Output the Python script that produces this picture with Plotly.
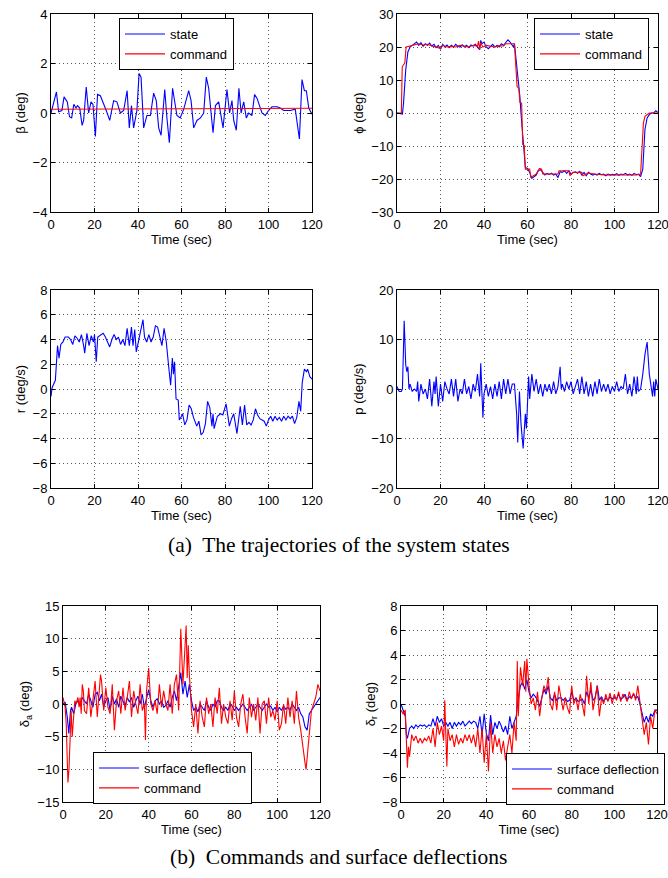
import plotly.graph_objects as go

# ---------------- data ----------------
t_beta = [0, 1, 2.5, 3.5, 5, 6, 7.5, 8.5, 9.5, 10.5, 11.5, 12.2, 13.2, 14.3, 15, 16.2, 17.3, 18.4, 19.3, 20.4,
          21.4, 22.7, 24.2, 25.4, 27, 28.8, 30.3, 31.9, 33.4, 35, 36, 37, 38, 39.5, 40.5, 41.4, 42.6, 44.1, 45.7,
          47.2, 48.4, 49.5, 50.6, 52.3, 53.3, 54.4, 55.9, 56.9, 57.9, 59.4, 61, 63.3, 64.4, 65.6, 67.1, 68.7,
          70.2, 71.4, 72.5, 73.6, 74.5, 75.6, 77.1, 79.1, 80.9, 82.1, 83.2, 84, 85.2, 86.4, 87.4, 88.6, 89.8,
          90.9, 92.4, 93.6, 94.7, 97, 98.5, 100, 101.6, 103.9, 105.4, 107, 110, 112.3, 114.2, 115.4, 116.5,
          117.4, 118.5, 120]
beta_state = [0.0, 0.3, 0.85, 0.05, 0.1, 0.65, 0.45, -0.15, -0.2, 0.35, 0.2, 0.3, 0.2, -0.5, -0.3, 1.05, 0.0,
              0.45, 0.35, -0.95, 0.75, 0.7, 0.4, 0.1, -0.3, 0.5, 0.45, 0.0, 0.1, 0.9, -0.6, 0.3, -0.6, 0.1, 1.6,
              1.45, -0.6, -0.1, -0.1, 0.8, 0.5, -0.6, -0.9, 0.95, -0.2, -1.2, 1.0, 0.5, -0.1, -0.2, 0.15, 0.9,
              0.5, -0.6, -0.3, -0.2, 0.0, 1.45, 1.0, 0.0, -0.8, 0.3, 0.45, -0.6, 0.95, 0.0, 0.5, -0.3, -0.7, 1.0,
              0.0, 0.45, -0.2, 0.0, -0.1, 0.75, 0.6, 0.0, -0.1, 0.1, 0.25, 0.25, 0.2, 0.1, 0.1, 0.15, -1.05,
              1.35, 0.9, 0.9, 0.2, -0.05]
t_beta_cmd = [0, 60, 120]
beta_cmd = [0.15, 0.17, 0.19]

t_phi_cmd = [0, 2.0, 2.4, 3.2, 3.6, 4.2, 6, 8, 10, 12, 14, 16, 18, 20, 21, 23, 25, 27, 29, 31, 33, 35, 37, 37.5,
             38, 38.5, 39.5, 41, 43, 45, 47, 49, 50, 52, 54, 55.2, 56, 56.5, 57.3, 57.8, 58.5, 59, 61, 61.5, 63,
             64, 65.5, 66.5, 67, 70, 74, 74.5, 79, 79.5, 81, 85, 85.5, 87, 88, 91, 95, 100, 105, 110, 112, 113.3,
             114, 115, 116, 120]
phi_cmd = [0, 0, 14, 15, 15.2, 20, 20.3, 20.7, 21, 20.6, 20.8, 20.3, 20, 19.6, 20.5, 20, 20.2, 20, 20.5, 20.2,
           20, 20.5, 20.3, 21.8, 19.3, 21.3, 20, 20.5, 20.2, 20, 20.4, 20.3, 21, 21, 21, 8, 7.5, 3.2, 3, -9.5,
           -9.8, -17, -17, -19.5, -19, -18.5, -16.8, -17, -18.5, -18.5, -18.5, -17.5, -17.5, -19, -18, -18, -19,
           -18.5, -18.2, -18.5, -18.8, -18.8, -18.8, -18.8, -18.5, -3, -1, -0.5, 0, 0]
t_phi = [0, 2.5, 3, 4, 5, 6, 7, 8, 9, 10, 11, 12, 13, 14, 15, 16, 17, 18, 19, 20, 21, 22, 23, 24, 25, 26, 27,
         28, 29, 30, 31, 32, 33, 34, 35, 36, 37, 38, 38.5, 39, 40, 41, 42, 43, 44, 45, 46, 47, 48, 49, 50, 51,
         52, 53, 53.5, 54, 54.5, 55, 55.5, 56, 56.5, 57, 57.5, 58, 58.5, 59, 60, 61, 62, 63, 64, 65, 66, 67, 68,
         69, 70, 71, 72, 73, 74, 75, 76, 77, 78, 79, 80, 81, 82, 83, 84, 85, 86, 87, 88, 89, 90, 91, 92, 93,
         94, 95, 96, 97, 98, 99, 100, 101, 102, 103, 104, 105, 106, 107, 108, 109, 110, 111, 112, 113, 113.5,
         114, 115, 116, 117, 118, 119, 120]
phi_state = [0, -0.3, 3, 13, 18.5, 20, 20.5, 21, 21.5, 20.5, 21.3, 20.2, 21, 20.5, 21.2, 20.3, 20.8, 19.8, 20.5,
             19.3, 20.8, 20, 20.6, 19.8, 20.5, 20, 20.8, 20.2, 20, 20.7, 20, 20.5, 19.8, 20.6, 20.3, 20.8, 20,
             19.2, 22, 21, 21.5, 20, 19.5, 20.2, 20.8, 20, 20.5, 20, 21, 20.5, 21.5, 22.2, 21.5, 20.5, 20, 21,
             18, 14, 10, 7, 5, 0, -4, -9, -13, -16.5, -16.8, -18, -19.8, -19.2, -18.8, -17.5, -17.2, -18, -18.8,
             -18.3, -18.6, -18.2, -18.8, -18.5, -19.6, -17.8, -18, -17.5, -18.3, -17.5, -18.5, -18, -17.8, -18.3,
             -17.7, -18.8, -18, -19, -18, -18.5, -18.8, -18.5, -18.8, -18.3, -18.7, -18.5, -19, -18.5, -18.8,
             -18.6, -18.8, -18.4, -18.9, -18.5, -18.7, -18.3, -18.8, -18.5, -18.9, -18.3, -18.7, -18.5, -19.3,
             -17, -10, -5, -1.5, -0.5, 0, 0, 0.7, 0.2]

t_r = [0, 0.5, 1, 2, 3, 3.7, 4.5, 5.5, 6.5, 8, 9, 10, 11, 12, 13, 14, 15, 15.5, 16.5, 17.5, 18.5, 19.5, 20,
       20.8, 21.5, 22.5, 24, 25, 26, 27, 28, 29, 30, 31, 32, 33, 34, 35, 36, 37, 37.7, 38.5, 39.2, 40, 41, 42.3,
       43, 44, 45, 46, 47, 48, 49, 50, 51, 52, 53, 54, 55, 55.8, 56.3, 56.8, 57.5, 58.5, 59, 60, 60.5, 61.5,
       62.5, 63.5, 64.5, 65.5, 66.5, 67, 68, 69, 70, 71, 72, 73, 74, 74.5, 75, 76.5, 78, 79, 80.5, 82, 83, 84,
       85.5, 87, 88, 89, 90, 91, 92, 93, 94, 95, 96, 97, 98, 99, 100, 101, 102, 103, 104, 105, 106, 107, 108,
       109, 110, 111, 112, 113, 114, 114.8, 115.5, 116.5, 117.5, 118, 119, 120]
r_state = [-0.6, 0.1, 0.3, 0.7, 3.5, 2.5, 3.6, 3.8, 4.2, 4.2, 4.0, 3.6, 4.3, 4.1, 3.8, 4.4, 3.5, 2.9, 4.5, 3.5,
           4.3, 3.8, 4.4, 2.2, 4.2, 4.3, 4.5, 4.2, 3.8, 3.4, 4.0, 4.4, 4.0, 4.2, 3.6, 4.0, 3.5, 4.9, 3.5, 5.0,
           3.5, 4.8, 3.0, 3.7, 4.5, 5.6, 4.2, 3.8, 4.4, 3.8, 4.2, 5.1, 5.0, 4.3, 3.5, 4.9, 3.8, 2.0, 0.3, 2.5,
           1.2, 2.2, -0.8, -0.9, -2.5, -2.2, -2.0, -2.9, -2.5, -1.3, -1.6, -2.3, -2.8, -3.0, -2.6, -3.7, -3.5,
           -2.8, -1.0, -1.5, -3.0, -2.0, -3.2, -2.2, -2.0, -2.1, -1.2, -3.0, -2.4, -2.0, -3.6, -1.4, -2.9, -1.3,
           -2.9, -2.7, -2.9, -2.5, -1.6, -2.1, -2.4, -2.5, -2.6, -3.0, -2.5, -2.2, -2.6, -2.2, -2.5, -2.3, -2.6,
           -2.2, -2.5, -2.2, -2.4, -2.2, -2.8, -2.3, -1.0, -1.8, 0.5, 1.6, 1.4, 1.6, 1.0, 0.8]

t_p = [0, 1, 2, 2.5, 3.3, 4, 4.5, 5, 5.5, 6, 7, 8, 9, 9.5, 10, 11, 12, 13, 14, 15, 16, 17, 17.5, 18, 19, 20, 21,
       22, 23, 24, 25, 26, 27, 28, 29, 30, 31, 32, 33, 34, 35, 36, 37, 38, 38.5, 39, 39.5, 40, 41, 42, 43, 44,
       45, 46, 47, 48, 49, 50, 51, 52, 53, 54, 55, 55.5, 56.3, 57, 58, 59, 59.5, 60, 60.5, 61, 62, 63, 64, 65,
       66, 67, 68, 69, 70, 71, 72, 73, 74, 75, 75.5, 76, 77, 78, 79, 80, 81, 82, 83, 84, 85, 86, 87, 88, 89, 90,
       91, 92, 93, 94, 95, 96, 97, 98, 99, 100, 101, 102, 103, 104, 105, 106, 107, 108, 109, 110, 110.5, 111,
       112, 113, 114, 115, 115.5, 116, 117, 117.5, 118, 118.5, 119, 120]
p_state = [0.5, -0.5, -0.5, 0, 13.8, 5, 3.5, 4.5, 0, 1, -0.5, 0, -0.5, 1.5, -2.5, 1, -1, 0, -2, 2, -3.5, 1.5,
           -1, 2.5, -3.5, 1, -2.5, 1.5, 0, -1, 2, -1.5, 2, -2.5, 0, -1, 2, -1, 0.5, -2, 1, -0.5, 3, -1.5, 5.2,
           -2, -5.8, -1, 1, -1.5, 0.5, -2, 1, -1.5, 1.5, -2, 2, -1, 2, -1, 1, 1, -5, -10.8, -0.5, -7, -12, -5,
           -8, -3, 2.5, -2, 3, -0.5, 2, -1, 1, -1.5, 1, -0.5, 1, -1, 1.5, -1, 0.5, 4.5, 0, 1, -0.5, 1.5, 0, 1.5,
           -1, 0.5, 2, -1, 2.5, -1, 1.5, -1.5, 1, -1.5, 1.5, -1, 2, -0.5, 1, -0.5, 1, -1, 0.5, -0.5, 1.5, -0.5,
           0.5, 0, 3, -1, 1, -1.5, 2.5, -1, 2.5, -0.5, 0, 3, 7, 9.5, 6, 3, 0, -1.5, 1.5, -1.5, 2, 0]

t_da = [0, 1, 2, 2.7, 3.5, 4, 5, 6, 7, 8, 9, 10, 11, 12, 13, 14, 15, 16, 17, 18, 19, 20, 21, 22, 23, 24, 25, 26,
        27, 28, 29, 30, 31, 32, 33, 34, 35, 36, 37, 38, 39, 40, 41, 42, 43, 44, 45, 46, 47, 48, 49, 50, 51, 52,
        53, 54, 55, 56, 57, 58, 59, 60, 61, 62, 63, 64, 65, 66, 67, 68, 69, 70, 71, 72, 73, 74, 75, 76, 77, 78,
        79, 80, 81, 82, 83, 84, 85, 86, 87, 88, 89, 90, 91, 92, 93, 94, 95, 96, 97, 98, 99, 100, 101, 102, 103,
        104, 105, 106, 107, 108, 109, 110, 111, 112, 113, 114, 115, 116, 117, 118, 119, 120]
da_surf = [0, 0.3, -2, -4.5, -1, -0.5, -1.5, 0, 0.5, -0.3, 1.0, 0.5, 0, 1.5, 0.5, -0.5, 1.5, 1.8, 0.5, 1.5,
           -0.5, 0.5, 1, -1, 1.2, 0, 0.8, -0.5, 1.2, 0.3, -0.3, 1.0, 0.3, 1, -0.5, 0.5, 1.2, 0, 1.5, -0.5, 1.0,
           2.2, 0.5, -0.5, 0.5, 0.8, 0, 0.5, -0.5, -0.2, 0.5, -0.5, 1.0, 2.0, 0.5, 3.0, 4.8, 1.5, 3.5, 1.0, 3.0,
           0.5, -1.0, -0.5, -1.2, 0, -0.5, -1, 0.5, -0.5, -1.0, 0, -0.5, 0.5, 0.5, -0.5, -1, -0.5, -1, 0, -0.3,
           -1, -0.5, -1, -0.5, 0, -0.5, -1, -0.5, 0, -1, -0.5, 0, -0.5, -1, -0.5, 0, -0.5, -0.3, -1, -0.5, -1.2,
           -0.5, -1, -0.3, -0.8, -0.5, -1, 0, -0.5, -1, -0.5, -1.5, -2, -3.5, -4, -1.5, -1, -0.5, 0, 0.5, 1.0]
t_da_cmd = [0, 0.5, 1, 1.5, 2.3, 2.8, 3.3, 3.8, 4.3, 4.8, 5.5, 6, 7, 7.5, 8, 8.5, 9, 9.5, 10, 11, 11.5, 12, 13,
            14, 15, 16, 17, 17.5, 18, 19, 20, 21, 22, 23, 24, 25, 26, 27, 28, 29, 30, 31, 32, 33, 34, 35, 36, 37,
            38, 38.5, 39, 40, 41, 42, 43, 44, 45, 46, 47, 48, 49, 50, 51, 52, 53, 54, 55, 56, 57, 57.5, 58, 58.5,
            59, 60, 61, 62, 63, 64, 65, 66, 67, 68, 69, 70, 71, 72, 73, 74, 75, 76, 77, 78, 79, 80, 81, 82, 83,
            84, 85, 86, 87, 88, 89, 90, 91, 92, 93, 94, 95, 96, 97, 98, 99, 100, 101, 102, 103, 104, 105, 106,
            107, 108, 109, 110, 111, 112, 113, 113.5, 114, 115, 116, 117, 118, 119, 120]
da_cmd = [1, 0, -0.5, -3, -12, -10, -5, -1, -5, -2, 0.5, 0, 1, -0.5, 1, -1.5, 3, 2, -1, -1.5, 1, 2.5, -2, 0.5,
          3.5, -2, 2, 4.5, 3.5, -1, 2.5, -0.5, -1.5, 3, -4, 0.5, 2, -1.5, 2.5, -1, 1, 3.5, -2, 2, 0, -1.5, 3,
          -1, 0, -5.5, 2, 5.5, 0, -1, 0.5, -1.5, 3.0, -0.5, 2, 0, -1, 3, -1.5, 3, 4.5, -1, 11.5, 3, 9, 12, 4, 9,
          4.5, -1, -3.5, 0, -4.5, 0.5, -2, -3.5, 1, -1.5, 0, -3.5, 1, -1.5, 2.5, -3, 0, -2, -3, 0.5, -2.5, 2,
          -2, -3.5, 0, 1.5, -2, -4.5, 1, -2, 0, -2.5, 1, -4.5, 0, 0.5, -3, 1, -2, -1, -2.5, 0.5, -4, -3, 0, -3,
          1, -2, 0.5, -3, 2, -2, -4, -7, -9, -10, -8, -4, -1, 0, 1, 3, 2]

t_dr = [0, 1, 2, 2.5, 3, 4, 5, 6, 7, 8, 9, 10, 11, 12, 13, 14, 15, 16, 17, 18, 19, 20, 21, 22, 23, 24, 25, 26,
        27, 28, 29, 30, 31, 32, 33, 34, 35, 36, 37, 38, 39, 40, 41, 42, 43, 44, 45, 46, 47, 48, 49, 50, 51, 52,
        53, 54, 55, 56, 57, 58, 59, 60, 61, 62, 63, 64, 65, 66, 67, 68, 69, 70, 71, 72, 73, 74, 75, 76, 77, 78,
        79, 80, 81, 82, 83, 84, 85, 86, 87, 88, 89, 90, 91, 92, 93, 94, 95, 96, 97, 98, 99, 100, 101, 102, 103,
        104, 105, 106, 107, 108, 109, 110, 111, 112, 113, 114, 115, 116, 117, 118, 119, 120]
dr_surf = [0, -0.5, -1, -2.5, -2.8, -2, -1.8, -2, -1.7, -1.9, -1.7, -1.8, -1.7, -1.9, -1.7, -1.8, -1.2, -1.8,
           -1.0, -1.5, -1.2, -1.8, -1.5, -1.8, -1.5, -2.0, -1.5, -1.8, -1.5, -1.7, -1.4, -1.8, -1.6, -1.4, -1.6,
           -1.4, -1.5, -2.0, -1.0, -2.5, -0.8, -2.4, -3.0, -0.9, -2.5, -1.5, -2.0, -1.4, -1.8, -2.3, -1.8, -2.5,
           -1.0, -2.0, -1.5, -1.0, 0.5, 1.5, 1.8, 1.2, 2.0, 1.0, 0.5, 0.8, 0.6, 0.3, -0.2, 0.5, 1.2, 0.8, 1.5,
           0.5, 0.3, 0.8, 0.3, 0.5, 0.5, 0.3, 0.5, 0.2, 0.3, 1.0, 0.3, 0.5, 0.2, 0.3, 0.4, 0.0, 1.0, 0.5, 1.2,
           0.3, 0.5, 1.5, 0.3, 0.6, 0.2, 0.5, 0.3, 0.6, 0.4, 0.6, 0.4, 0.8, 0.4, 0.5, 0.8, 0.3, 0.6, 0.5, 0.8,
           0.5, 0.6, 0.0, -0.8, -1.5, -1.0, -1.5, -0.8, -1.0, -0.5, -0.5]
t_dr_cmd = [0, 1, 2, 2.5, 3, 3.5, 4, 5, 6, 7, 8, 9, 10, 11, 12, 13, 14, 15, 16, 17, 18, 19, 20, 20.5, 21, 21.5,
            22, 23, 24, 25, 26, 27, 28, 29, 30, 31, 32, 33, 34, 35, 36, 37, 38, 39, 40, 41, 42, 43, 44, 45, 46,
            47, 48, 49, 50, 51, 52, 53, 54, 54.5, 55, 56, 57, 58, 58.5, 59, 60, 61, 62, 63, 64, 65, 66, 67, 68,
            69, 70, 71, 72, 73, 74, 75, 76, 77, 78, 79, 80, 81, 82, 83, 84, 85, 86, 87, 88, 89, 90, 91, 92, 93,
            94, 95, 96, 97, 98, 99, 100, 101, 102, 103, 104, 105, 106, 107, 108, 109, 110, 111, 112, 113, 114,
            115, 116, 117, 118, 119, 120]
dr_cmd = [-0.5, -0.8, -0.5, -3, -5.2, -3.5, -4.3, -2.5, -3.0, -2.6, -3.2, -2.8, -3.2, -2.8, -3.0, -2.6, -3.2,
          -2.0, -3.5, -1.5, -2.5, -1.8, -3.0, 0.3, -2.5, -5.1, -2, -3, -2.5, -3.5, -2.5, -3.3, -2.8, -3.2, -2.5,
          -3.0, -2.5, -3.2, -2.5, -3.5, -2.0, -4.0, -2.0, -4.8, -2.5, -5.5, -1.5, -4.0, -2.5, -3.5, -2.8, -4.0,
          -3.0, -4.6, -3.5, -2.5, -4.0, -1.5, -3.0, 3.5, -1.0, 3.0, 1.5, 3.5, 1.0, 3.7, 1.5, 0.0, 0.5, -0.5,
          1.0, -1.0, 0.5, 1.5, 1.0, 2.2, 0.0, -0.5, 1.0, -0.5, 1.5, 0.5, -0.5, 0.5, -0.3, -0.8, 1.5, 0.0, 0.5,
          -0.5, 0.8, 0.0, -1.0, 2.3, 0.0, 1.8, -0.5, 0.5, 1.5, -1.0, 0.5, 0.0, 0.8, 0.2, 0.9, 0.0, 0.8, 0.3,
          1.0, 0.2, 0.8, 0.6, 0.2, 1.0, 0.4, 0.9, 0.3, 1.5, 0.0, -1.5, -2.5, -1.5, -3.3, -1.0, -2.0, -0.5, -0.8]

x_ticks = [0, 20, 40, 60, 80, 100, 120]

# ---------------- layout helpers ----------------
W, H = 668, 878
BLUE, RED = "#0000ff", "#ff0000"
FONT = "Arial, Liberation Sans, sans-serif"


def xd(a, b):
    return [a / W, b / W]


def yd(top, bot):
    return [1 - bot / H, 1 - top / H]


fig = go.Figure()

panels = [
    # (xdomain px, ydomain px, yrange, ydtick, ytitle)
    ((51, 312), (14, 212), [-4, 4], 2, "β (deg)"),
    ((397, 658), (14, 212), [-30, 30], 10, "ϕ (deg)"),
    ((51, 312), (290, 488), [-8, 8], 2, "r (deg/s)"),
    ((397, 658), (290, 488), [-20, 20], 10, "p (deg/s)"),
    ((63, 320), (606, 802), [-15, 15], 5, "δ<sub>a</sub> (deg)"),
    ((401, 657), (606, 802), [-8, 8], 2, "δ<sub>r</sub> (deg)"),
]

axis_common = dict(
    showline=True, linecolor="black", linewidth=1, mirror="ticks",
    ticks="inside", ticklen=4, tickcolor="black", automargin=False,
    ticklabeloverflow="allow",
    showgrid=True, gridcolor="#555555", griddash="1px,3px", gridwidth=1,
    zeroline=False, tickfont=dict(size=13, color="black", family=FONT),
)

for i, (xp, yp, yr, dt, ytitle) in enumerate(panels):
    n = "" if i == 0 else str(i + 1)
    fig.layout["xaxis" + n] = dict(
        axis_common, domain=xd(*xp), range=[0, 120], tickvals=x_ticks,
        anchor="y" + n,
        title=dict(text="Time (sec)", font=dict(size=13, color="black", family=FONT), standoff=0),
    )
    fig.layout["yaxis" + n] = dict(
        axis_common, domain=yd(*yp), range=yr, dtick=dt,
        anchor="x" + n,
        title=dict(text=ytitle, font=dict(size=13, color="black", family=FONT), standoff=4),
    )

lw = 1.1
# panel 1
fig.add_trace(go.Scatter(x=t_beta, y=beta_state, mode="lines", line=dict(color=BLUE, width=lw),
                         name="state", xaxis="x", yaxis="y", legend="legend"))
fig.add_trace(go.Scatter(x=t_beta_cmd, y=beta_cmd, mode="lines", line=dict(color=RED, width=lw),
                         name="command", xaxis="x", yaxis="y", legend="legend"))
# panel 2
fig.add_trace(go.Scatter(x=t_phi, y=phi_state, mode="lines", line=dict(color=BLUE, width=lw),
                         name="state", xaxis="x2", yaxis="y2", legend="legend2"))
fig.add_trace(go.Scatter(x=t_phi_cmd, y=phi_cmd, mode="lines", line=dict(color=RED, width=lw),
                         name="command", xaxis="x2", yaxis="y2", legend="legend2"))
# panel 3
fig.add_trace(go.Scatter(x=t_r, y=r_state, mode="lines", line=dict(color=BLUE, width=lw),
                         showlegend=False, xaxis="x3", yaxis="y3"))
# panel 4
fig.add_trace(go.Scatter(x=t_p, y=p_state, mode="lines", line=dict(color=BLUE, width=lw),
                         showlegend=False, xaxis="x4", yaxis="y4"))
# panel 5
fig.add_trace(go.Scatter(x=t_da, y=da_surf, mode="lines", line=dict(color=BLUE, width=lw),
                         name="surface deflection", xaxis="x5", yaxis="y5", legend="legend3"))
fig.add_trace(go.Scatter(x=t_da_cmd, y=da_cmd, mode="lines", line=dict(color=RED, width=lw),
                         name="command", xaxis="x5", yaxis="y5", legend="legend3"))
# panel 6
fig.add_trace(go.Scatter(x=t_dr, y=dr_surf, mode="lines", line=dict(color=BLUE, width=lw),
                         name="surface deflection", xaxis="x6", yaxis="y6", legend="legend4"))
fig.add_trace(go.Scatter(x=t_dr_cmd, y=dr_cmd, mode="lines", line=dict(color=RED, width=lw),
                         name="command", xaxis="x6", yaxis="y6", legend="legend4"))

leg_common = dict(bgcolor="white", bordercolor="black", borderwidth=1,
                  font=dict(size=13, color="black", family=FONT),
                  xanchor="left", yanchor="top", tracegroupgap=0, itemwidth=40)


def leg(xpx, ypx):
    return dict(leg_common, x=xpx / W, y=1 - ypx / H)


fig.update_layout(
    template="none",
    width=W, height=H, margin=dict(l=0, r=0, t=0, b=0, autoexpand=False),
    paper_bgcolor="white", plot_bgcolor="white",
    font=dict(family=FONT, size=13, color="black"),
    legend=leg(119, 18),
    legend2=leg(534, 18),
    legend3=leg(93, 752),
    legend4=leg(506, 753),
)

fig.add_annotation(text="(a)  The trajectories of the system states", xref="paper", yref="paper",
                   x=339 / W, y=1 - 545 / H, showarrow=False, xanchor="center", yanchor="middle",
                   font=dict(family="Liberation Serif, Times New Roman, serif", size=21.5, color="black"))
fig.add_annotation(text="(b)  Commands and surface deflections", xref="paper", yref="paper",
                   x=338 / W, y=1 - 857 / H, showarrow=False, xanchor="center", yanchor="middle",
                   font=dict(family="Liberation Serif, Times New Roman, serif", size=21.5, color="black"))

fig.write_html(
    "out.html",
    config={"displayModeBar": False},
    post_script="document.body.style.margin='0px';document.body.style.overflow='hidden';",
)
